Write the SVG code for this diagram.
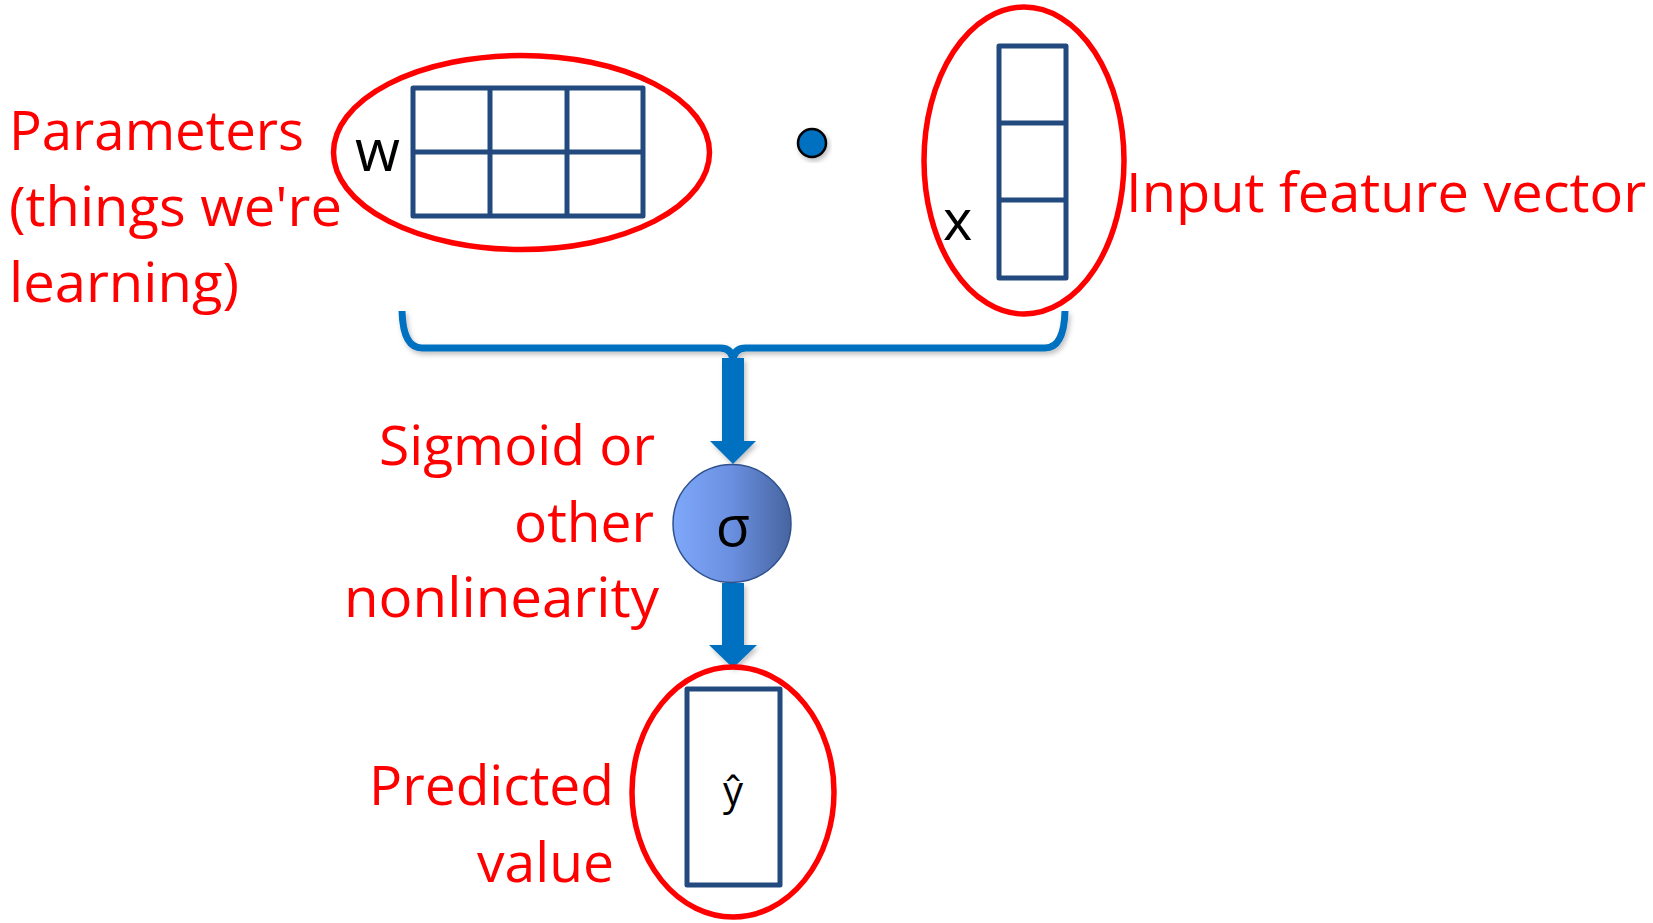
<svg xmlns="http://www.w3.org/2000/svg" width="1653" height="923" viewBox="0 0 1653 923">
<style>
.lbl{font-family:"Open Sans","Noto Sans","Liberation Sans",sans-serif;font-size:55px;fill:#FF0000;}
.sym{font-family:"Open Sans","Noto Sans","Liberation Sans",sans-serif;fill:#000000;}
.ring{fill:none;stroke:#FF0000;stroke-width:5.5;}
.cell{fill:#FFFFFF;stroke:#234A7E;stroke-width:5;stroke-linejoin:round;}
.div{stroke:#234A7E;stroke-width:5;}
.conn{fill:#0070C0;}
.brace{fill:none;stroke:#0070C0;stroke-width:7;stroke-linecap:butt;stroke-linejoin:round;}
</style>
<defs>
<linearGradient id="sigGrad" x1="0" y1="0" x2="1" y2="0">
<stop offset="0" stop-color="#7FA8FA"/>
<stop offset="0.5" stop-color="#6A8FE0"/>
<stop offset="1" stop-color="#46649F"/>
</linearGradient>
<filter id="shadow" x="-20%" y="-20%" width="140%" height="140%">
<feDropShadow dx="2" dy="3" stdDeviation="2.5" flood-color="#000000" flood-opacity="0.25"/>
</filter>
</defs>
<rect width="1653" height="923" fill="#FFFFFF"/>

<g id="connectors">
<path class="brace" filter="url(#shadow)" d="M402 311 Q403 348 422 348 L720 348 Q733 348 733 362 M1065 311 Q1064 348 1045 348 L746 348 Q733 348 733 362 L733 376"/>
<path class="conn" filter="url(#shadow)" d="M722 358 L744 358 L744 441 L756 441 L733 464 L710 441 L722 441 Z"/>
<path class="conn" filter="url(#shadow)" d="M722 583 L744 583 L744 645 L757 645 L733 668 L709 645 L722 645 Z"/>
</g>

<g id="params-label">
<text class="lbl" x="9" y="150" textLength="295" lengthAdjust="spacingAndGlyphs">Parameters</text>
<text class="lbl" x="9" y="226" textLength="333" lengthAdjust="spacingAndGlyphs">(things we're</text>
<text class="lbl" x="9" y="302" textLength="230" lengthAdjust="spacingAndGlyphs">learning)</text>
</g>

<g id="w-matrix">
<ellipse class="ring" cx="521.5" cy="152.5" rx="188" ry="97"/>
<rect class="cell" x="413" y="88" width="230" height="128"/>
<line class="div" x1="413" y1="152" x2="643" y2="152"/>
<line class="div" x1="490" y1="88" x2="490" y2="216"/>
<line class="div" x1="567" y1="88" x2="567" y2="216"/>
<text class="sym" x="355" y="171" font-size="58">w</text>
</g>

<g id="dot">
<circle cx="812" cy="143" r="14" fill="#0070C0" stroke="#000000" stroke-width="2.5" filter="url(#shadow)"/>
</g>

<g id="x-vector">
<ellipse class="ring" cx="1024" cy="160.5" rx="100" ry="153.5"/>
<rect class="cell" x="999" y="46" width="67" height="232"/>
<line class="div" x1="999" y1="123" x2="1066" y2="123"/>
<line class="div" x1="999" y1="200" x2="1066" y2="200"/>
<text class="sym" x="943" y="240" font-size="56">x</text>
</g>

<g id="input-label">
<text class="lbl" x="1126" y="212" textLength="520" lengthAdjust="spacingAndGlyphs">Input feature vector</text>
</g>

<g id="sigmoid">
<circle cx="732" cy="523.5" r="59" fill="url(#sigGrad)" stroke="#2F528F" stroke-width="1.5"/>
<text class="sym" x="733" y="546" font-size="56" text-anchor="middle">σ</text>
</g>

<g id="sigmoid-label">
<text class="lbl" x="379" y="465" textLength="276" lengthAdjust="spacingAndGlyphs">Sigmoid or</text>
<text class="lbl" x="514" y="542" textLength="140" lengthAdjust="spacingAndGlyphs">other</text>
<text class="lbl" x="344" y="617" textLength="315" lengthAdjust="spacingAndGlyphs">nonlinearity</text>
</g>

<g id="output">
<ellipse class="ring" cx="733" cy="792" rx="101" ry="125"/>
<rect class="cell" x="687" y="689" width="93" height="196"/>
<text class="sym" x="733" y="805" font-size="40" text-anchor="middle">ŷ</text>
</g>

<g id="predicted-label">
<text class="lbl" x="369" y="805" textLength="245" lengthAdjust="spacingAndGlyphs">Predicted</text>
<text class="lbl" x="477" y="882" textLength="137" lengthAdjust="spacingAndGlyphs">value</text>
</g>
</svg>
